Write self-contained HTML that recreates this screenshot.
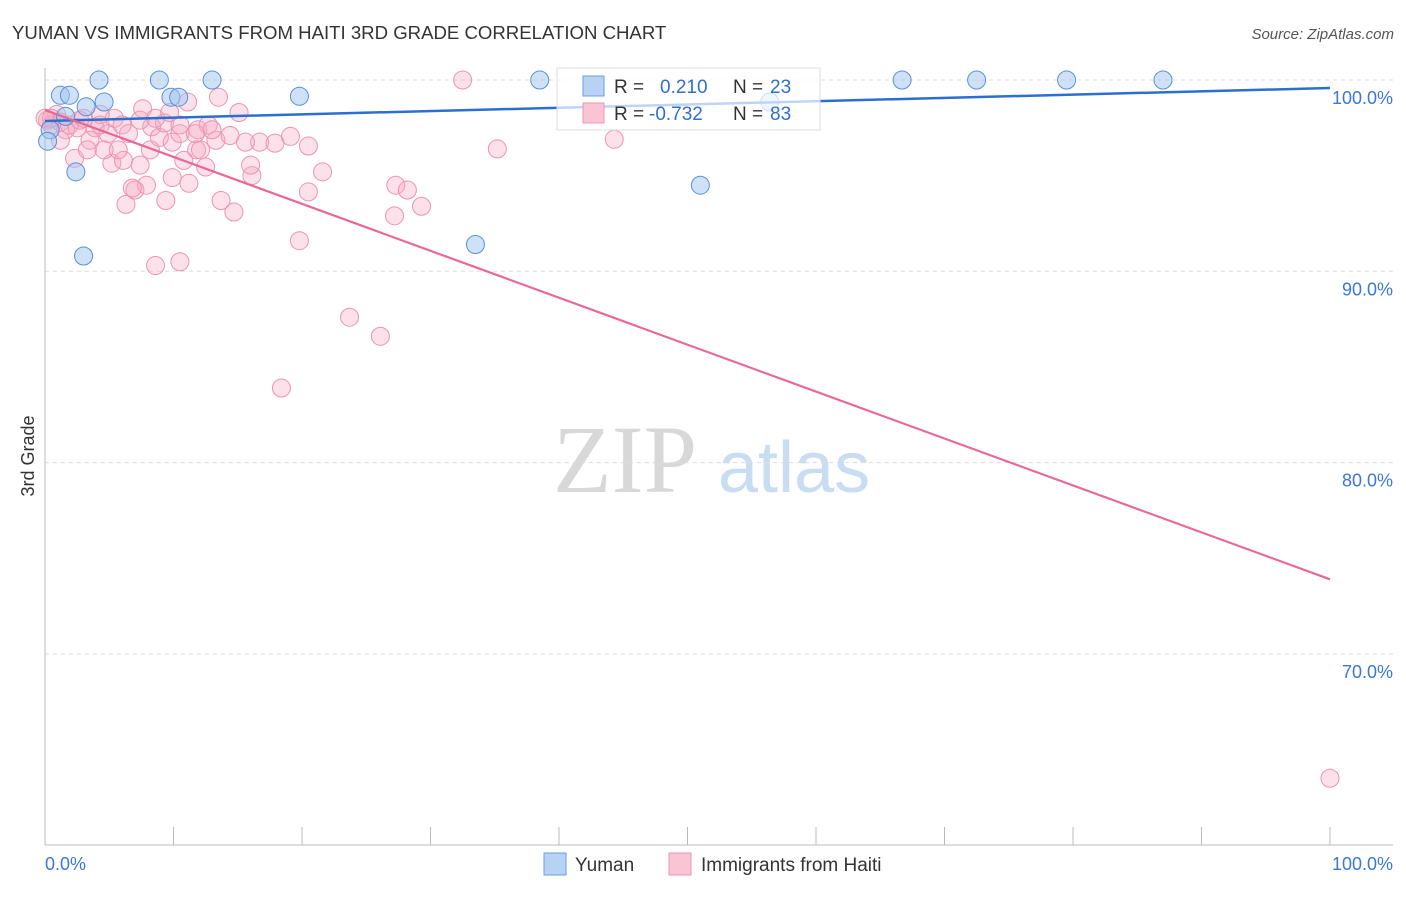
<!DOCTYPE html>
<html><head><meta charset="utf-8"><style>
body{margin:0;background:#fff;font-family:"Liberation Sans",sans-serif;}
svg text{font-family:"Liberation Sans",sans-serif;}
</style></head><body>
<svg id="c" width="1406" height="892">
<text x="12" y="39" font-size="18.6" fill="#333">YUMAN VS IMMIGRANTS FROM HAITI 3RD GRADE CORRELATION CHART</text>
<text x="1394" y="39" font-size="15" fill="#555" text-anchor="end" font-style="italic">Source: ZipAtlas.com</text>
<text x="34" y="456" font-size="18" fill="#333" transform="rotate(-90 34 456)" text-anchor="middle">3rd Grade</text>
<g>
<text x="553" y="492" font-size="96" fill="#d8d8d8" font-family="Liberation Serif" style="font-family:'Liberation Serif',serif">ZIP</text>
<text x="718" y="492" font-size="72" fill="#c8dcf2">atlas</text>
</g>
<g id="grid"></g><g id="axes"></g><g id="pts"></g><g id="lines"></g>
<g>
<rect x="557" y="68" width="263" height="62" fill="#fff" fill-opacity="0.7" stroke="#ddd"/>
<rect x="583" y="76" width="21" height="20" fill="#b8d2f4" stroke="#6a9ee0"/>
<rect x="583" y="103" width="21" height="20" fill="#f9c4d4" stroke="#ee94b0"/>
<text x="614" y="93" font-size="19" fill="#333">R =</text>
<text x="660" y="93" font-size="19" fill="#2f6fd0">0.210</text>
<text x="733" y="93" font-size="19" fill="#333">N =</text>
<text x="770" y="93" font-size="19" fill="#2f6fd0">23</text>
<text x="614" y="120" font-size="19" fill="#333">R =</text>
<text x="649" y="120" font-size="19" fill="#2f6fd0">-0.732</text>
<text x="733" y="120" font-size="19" fill="#333">N =</text>
<text x="770" y="120" font-size="19" fill="#2f6fd0">83</text>
</g>
<g>
<rect x="544" y="853" width="22" height="22" fill="#b8d2f4" stroke="#6a9ee0"/>
<text x="575" y="871" font-size="19" fill="#333">Yuman</text>
<rect x="669" y="853" width="22" height="22" fill="#f9c4d4" stroke="#ee94b0"/>
<text x="701" y="871" font-size="19" fill="#333">Immigrants from Haiti</text>
</g>
</svg>
<script>
const yTicks=[100,90,80,70];
const yTickLabels=["100.0%","90.0%","80.0%","70.0%"];
const xTicks=[0,10,20,30,40,50,60,70,80,90,100];
const yumanX=[4.2,8.9,13.0,38.5,66.7,72.5,79.5,87.0,1.2,1.9,3.2,4.6,9.8,10.4,19.8,1.6,0.4,0.2,2.4,3.0,33.5,51.0,56.4];
const yumanY=[100,100,100,100,100,100,100,100,99.2,99.2,98.6,98.85,99.1,99.1,99.15,98.1,97.4,96.8,95.2,90.8,91.4,94.5,98.85];
const haitiX=[32.5,44.3,35.2,100,18.4,23.7,26.1,19.8,8.6,10.5,27.3,28.2,29.3,27.2,20.5,21.6,14.7,13.7,9.4,6.3,7.0,7.9,6.8,11.2,9.9,16.1,16.0,5.2,7.4,2.3,6.1,12.5,11.8,12.1,10.8,13.3,14.4,16.7,17.9,19.1,20.5,13.5,15.1,11.1,7.6,0.9,0.2,0.5,1.2,1.6,1.9,2.5,2.7,3.5,3.9,4.3,4.9,5.4,6.0,6.5,8.3,8.9,9.3,9.9,10.5,11.9,12.7,13.0,3.3,4.6,5.7,1.2,4.3,0.5,3.0,8.2,10.5,15.6,11.7,8.6,9.7,7.4,0];
const haitiY=[100,96.9,96.4,63.5,83.9,87.6,86.6,91.6,90.3,90.5,94.5,94.25,93.4,92.9,94.15,95.2,93.1,93.7,93.7,93.5,94.25,94.5,94.35,94.6,94.9,95.0,95.55,95.65,95.55,95.9,95.8,95.45,96.35,96.35,95.8,96.85,97.1,96.75,96.7,97.05,96.55,99.1,98.3,98.85,98.5,98.2,97.9,97.65,97.8,97.4,97.65,97.5,97.9,96.85,97.5,97.65,97.2,98.0,97.65,97.2,97.55,97.0,97.75,96.75,97.2,97.4,97.65,97.4,96.35,96.35,96.35,96.85,98.2,98.0,98.0,96.35,97.65,96.75,97.2,98.0,98.3,97.9,98.0];
const yumanTrend=[97.86,99.58];
const haitiTrend=[98.43,73.9];
const NS="http://www.w3.org/2000/svg";
const sx=v=>45+v*12.85;
const sy=v=>80+(100-v)*19.13;
function mk(tag,attrs,parent){const e=document.createElementNS(NS,tag);for(const k in attrs)e.setAttribute(k,attrs[k]);document.getElementById(parent).appendChild(e);return e;}
yTicks.forEach((t,i)=>{
 const l=mk('line',{x1:45,x2:1393,y1:sy(t),y2:sy(t),stroke:'#ddd','stroke-dasharray':'4,4'},'grid');
 
 
 const tx=mk('text',{x:1393,y:sy(t)+24,'font-size':18,fill:'#3b78d6','text-anchor':'end'},'grid');
 tx.textContent=yTickLabels[i];
 
 
});
let a=mk('line',{x1:45,x2:45,y1:68,y2:845,stroke:'#bbb'},'axes');


a=mk('line',{x1:45,x2:1393,y1:845,y2:845,stroke:'#bbb'},'axes');


xTicks.forEach(t=>{
 const l=mk('line',{x1:sx(t),x2:sx(t),y1:827,y2:845,stroke:'#bbb'},'axes');
 
 
});
let t0=mk('text',{x:45,y:870,'font-size':18,fill:'#3b78d6'},'axes');t0.textContent='0.0%';


let t1=mk('text',{x:1393,y:870,'font-size':18,fill:'#3b78d6','text-anchor':'end'},'axes');t1.textContent='100.0%';


haitiX.forEach((x,i)=>{
 const c=mk('circle',{cx:sx(x),cy:sy(haitiY[i]),r:9,fill:'rgba(246,168,194,0.35)',stroke:'#ec94b0','stroke-width':1},'pts');
 
 
});
yumanX.forEach((x,i)=>{
 const c=mk('circle',{cx:sx(x),cy:sy(yumanY[i]),r:9,fill:'rgba(160,196,240,0.5)',stroke:'#5a90d8','stroke-width':1},'pts');
 
 
});
let L=mk('line',{x1:sx(0),y1:sy(yumanTrend[0]),x2:sx(100),y2:sy(yumanTrend[1]),stroke:'#2a6fd2','stroke-width':2.5},'lines');


L=mk('line',{x1:sx(0),y1:sy(haitiTrend[0]),x2:sx(100),y2:sy(haitiTrend[1]),stroke:'#e8689a','stroke-width':2.2},'lines');


</script>
</body></html>
